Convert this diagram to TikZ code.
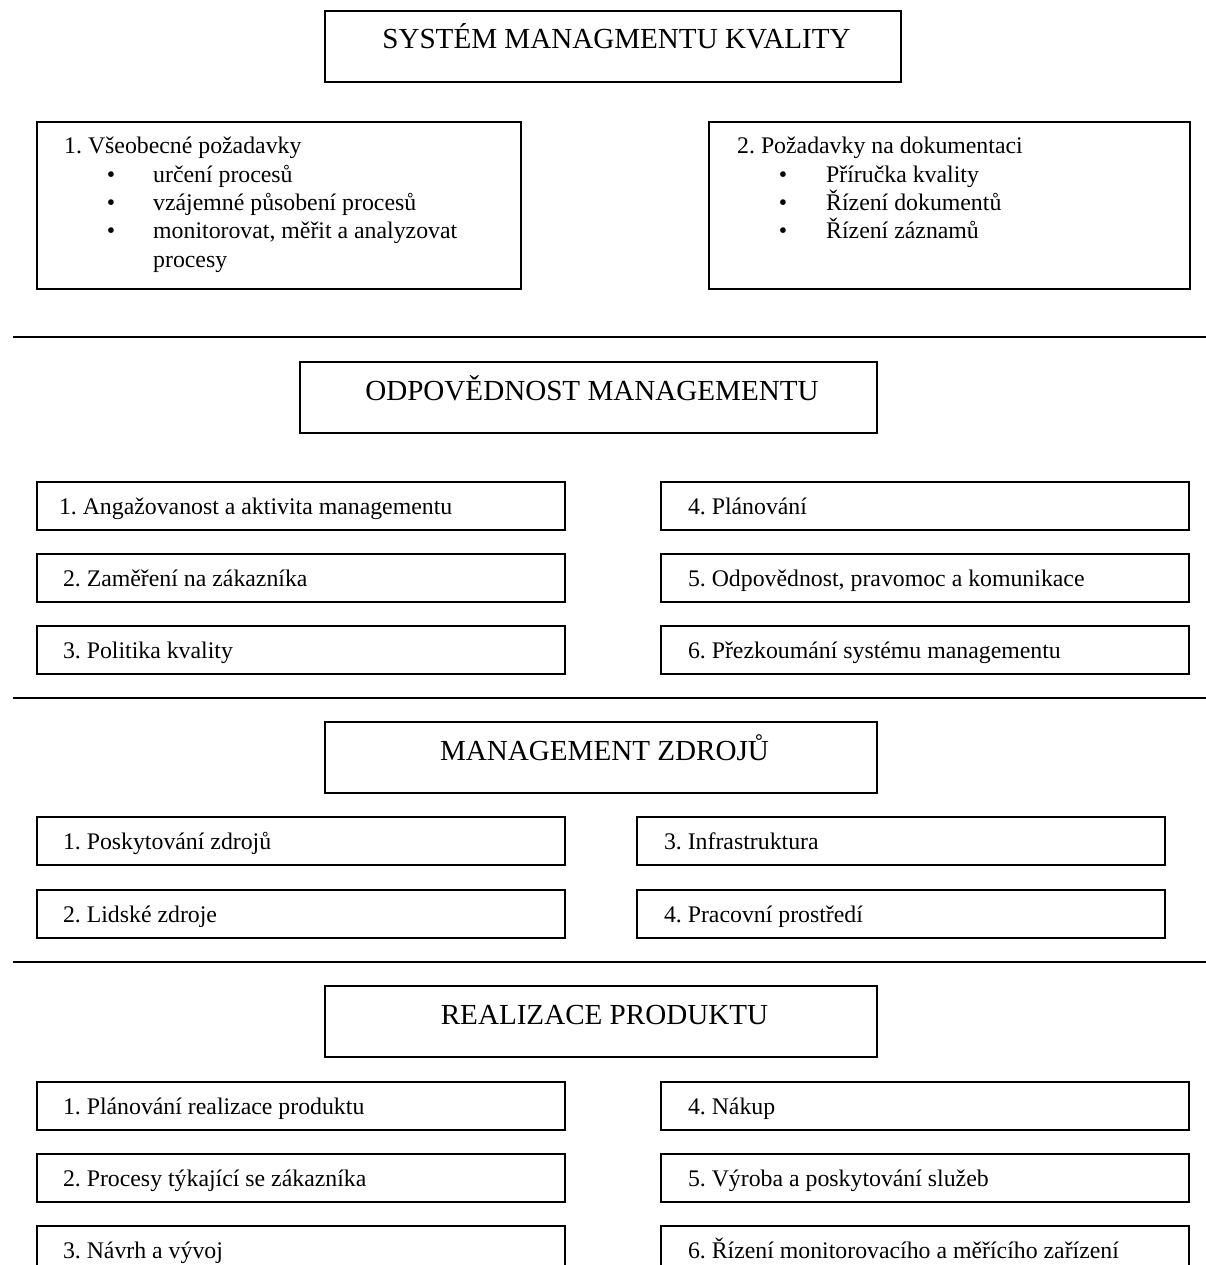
\documentclass[tikz,border=0pt]{standalone}
\usepackage{fontspec}
\setmainfont{Liberation Serif}
\newcommand\bodyfont{\fontsize{23.8pt}{28.3pt}\selectfont\frenchspacing}
\newcommand\headfont{\fontsize{29.1pt}{34pt}\selectfont\frenchspacing}
\begin{document}
\begin{tikzpicture}[x=1pt,y=-1pt,
  frame/.style={draw, line width=1.8pt, anchor=north west, inner sep=0pt, outer sep=0pt},
  headbox/.style={frame, font=\headfont, minimum height=71pt, text height=20pt, text depth=15pt},
  rowbox/.style={frame, font=\bodyfont, minimum width=528pt, minimum height=48pt,
     text height=22pt, text depth=5pt, align=flush left, inner xsep=26pt, text width=476pt},
  rowboxr/.style={rowbox, inner xsep=27pt, text width=474pt},
  listbox/.style={frame, minimum width=484pt, minimum height=167pt},
  ltxt/.style={anchor=base west, inner sep=0pt, font=\bodyfont},
  bul/.style={anchor=base, inner sep=0pt, font=\bodyfont},
  rule/.style={line width=1.8pt}
]
\useasboundingbox (0,0) rectangle (1206,1265);
\clip (0,0) rectangle (1206,1265);

% ---------- Section 1 ----------
\node[headbox, minimum width=576pt] (t1) at (325,11) {\hspace*{7pt}SYSTÉM MANAGMENTU KVALITY};

\node[listbox] (b1) at (37,122) {};
\node[ltxt] (b1h) at (64,154) {1. Všeobecné požadavky};
\node[bul] (b1b1) at (111,182.3) {•};
\node[ltxt] (b1i1) at (153,182.3) {určení procesů};
\node[bul] (b1b2) at (111,210.6) {•};
\node[ltxt] (b1i2) at (153,210.6) {vzájemné působení procesů};
\node[bul] (b1b3) at (111,238.9) {•};
\node[ltxt] (b1i3) at (153,238.9) {monitorovat, měřit a analyzovat};
\node[ltxt] (b1i4) at (153,267.2) {procesy};

\node[listbox, minimum width=481pt] (b2) at (709,122) {};
\node[ltxt] (b2h) at (737,154) {2. Požadavky na dokumentaci};
\node[bul] (b2b1) at (783,182.3) {•};
\node[ltxt] (b2i1) at (826,182.3) {Příručka kvality};
\node[bul] (b2b2) at (783,210.6) {•};
\node[ltxt] (b2i2) at (826,210.6) {Řízení dokumentů};
\node[bul] (b2b3) at (783,238.9) {•};
\node[ltxt] (b2i3) at (826,238.9) {Řízení záznamů};

\draw[rule] (13,337) -- (1206,337);

% ---------- Section 2 ----------
\node[headbox, minimum width=577pt] (t2) at (300,362) {\hspace*{7pt}ODPOVĚDNOST MANAGEMENTU};

\node[rowbox, inner xsep=22pt, text width=484pt] (r21) at (37,482) {1. Angažovanost a aktivita managementu};
\node[rowbox] (r22) at (37,554) {2. Zaměření na zákazníka};
\node[rowbox] (r23) at (37,626) {3. Politika kvality};
\node[rowboxr] (r24) at (661,482) {4. Plánování};
\node[rowboxr] (r25) at (661,554) {5. Odpovědnost, pravomoc a komunikace};
\node[rowboxr] (r26) at (661,626) {6. Přezkoumání systému managementu};

\draw[rule] (13,698) -- (1206,698);

% ---------- Section 3 ----------
\node[headbox, minimum width=552pt] (t3) at (325,722) {\hspace*{7pt}MANAGEMENT ZDROJŮ};

\node[rowbox] (r31) at (37,817) {1. Poskytování zdrojů};
\node[rowbox] (r32) at (37,890) {2. Lidské zdroje};
\node[rowboxr] (r33) at (637,817) {3. Infrastruktura};
\node[rowboxr] (r34) at (637,890) {4. Pracovní prostředí};

\draw[rule] (13,962) -- (1206,962);

% ---------- Section 4 ----------
\node[headbox, minimum width=552pt] (t4) at (325,986) {\hspace*{7pt}REALIZACE PRODUKTU};

\node[rowbox] (r41) at (37,1082) {1. Plánování realizace produktu};
\node[rowbox] (r42) at (37,1154) {2. Procesy týkající se zákazníka};
\node[rowbox] (r43) at (37,1226) {3. Návrh a vývoj};
\node[rowboxr] (r44) at (661,1082) {4. Nákup};
\node[rowboxr] (r45) at (661,1154) {5. Výroba a poskytování služeb};
\node[rowboxr] (r46) at (661,1226) {6. Řízení monitorovacího a měřícího zařízení};
\end{tikzpicture}
\end{document}
